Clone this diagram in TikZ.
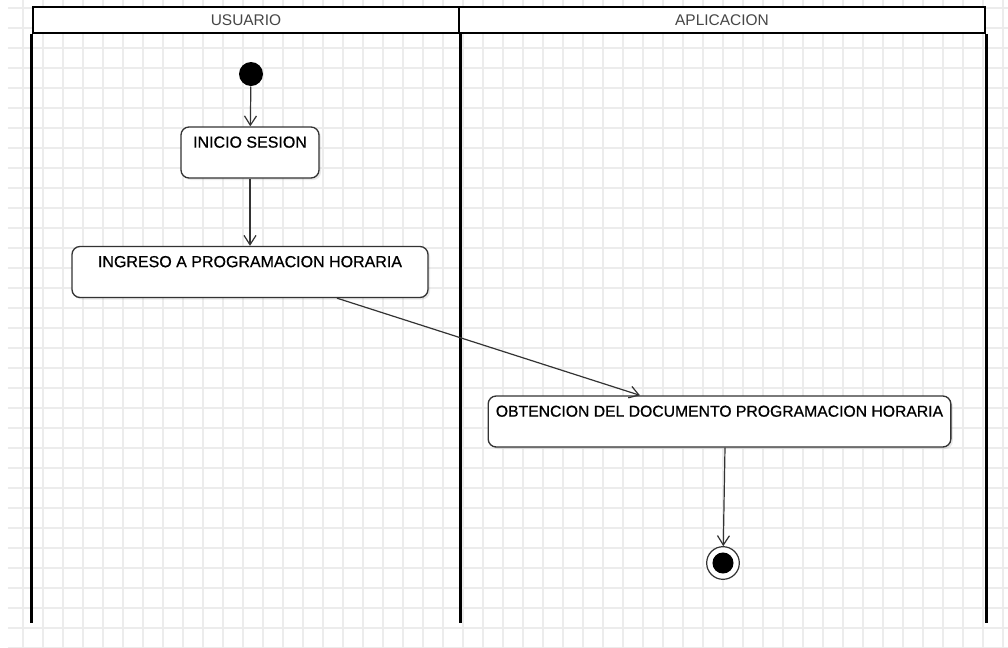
\documentclass[tikz,border=0pt]{standalone}
\usepackage{fontspec}
\setmainfont{Liberation Sans}
\usepackage{tikz}
\usetikzlibrary{calc}
\usetikzlibrary{arrows.meta}
\usetikzlibrary{shadows}
\tikzset{every picture/.style={line width=0.75pt}}
\definecolor{gridgray}{RGB}{236,236,236}
\definecolor{inkgray}{RGB}{51,51,51}
\definecolor{headgray}{RGB}{70,70,70}
\tikzset{
  gridline/.style={draw=gridgray, line width=1.1pt},
  lanehead/.style={draw=black, fill=white, line width=2.2pt, minimum height=19.5pt, inner sep=0pt,
    text=headgray, font=\fontsize{11.6}{13}\selectfont},
  laneline/.style={draw=black, line width=2pt},
  actbox/.style={draw=inkgray, fill=white, rounded corners=6pt, line width=1pt, inner xsep=2pt,
    inner ysep=4pt, text height=11.5pt, text depth=18.75pt,
    font=\fontsize{12}{13}\selectfont\addfontfeature{FakeBold=0.7},
    drop shadow={shadow xshift=1.5pt, shadow yshift=-1.5pt, opacity=0.18}},
  initdot/.style={circle, fill=black, minimum size=18pt, inner sep=0pt},
  enddot/.style={circle, draw=inkgray, fill=white, line width=0.9pt, minimum size=24.5pt, inner sep=0pt,
    path picture={\fill[black] (path picture bounding box.center) circle (7.9pt);}},
  flow/.style={draw=inkgray, line width=0.9pt, -{Straight Barb[length=7pt, width=9pt]}}
}

\begin{document}
\begin{tikzpicture}[x=0.75pt,y=0.75pt,yscale=-1,xscale=1]
\useasboundingbox (0,0) rectangle (1008,647);
\fill[white] (0,0) rectangle (1008,647);

%Grid
\foreach \gx in {23,43,...,1003} \draw[gridline] (\gx,0) -- (\gx,647);
\foreach \gy in {8,28,...,648} \draw[gridline] (8,\gy) -- (1008,\gy);

%Swimlanes
\node[lanehead, minimum width=319.5pt] (usuario) at (246,20) {USUARIO};
\node[lanehead, minimum width=394.5pt] (aplicacion) at (722,20) {APLICACION};
\draw[laneline] (usuario.south west) -- (usuario.south west |- 0,623);
\draw[laneline] (usuario.south east) -- (usuario.south east |- 0,623);
\draw[laneline] (aplicacion.south east) -- (aplicacion.south east |- 0,623);

%Activities
\node[initdot] (start) at (251,74) {};
\node[actbox, minimum width=103.5pt] (inicio) at (250,152.5) {INICIO SESION};
\node[actbox, minimum width=267pt] (ingreso) at (250,272) {INGRESO A PROGRAMACION HORARIA};
\node[actbox, minimum width=347pt, font=\fontsize{11.8}{13}\selectfont\addfontfeature{FakeBold=0.7}] (obtencion) at (719.5,421.5) {OBTENCION DEL DOCUMENTO PROGRAMACION HORARIA};
\node[enddot] (final) at (723,563) {};

%Transitions
\draw[flow] (start) -- (inicio);
\draw[flow] (inicio) -- (ingreso);
\draw[flow] ($(ingreso.south)+(87,0)$) -- ($(obtencion.north)+(-79.5,0)$);
\draw[flow] ($(obtencion.south)+(5.5,0)$) -- (final);

\end{tikzpicture}
\end{document}
